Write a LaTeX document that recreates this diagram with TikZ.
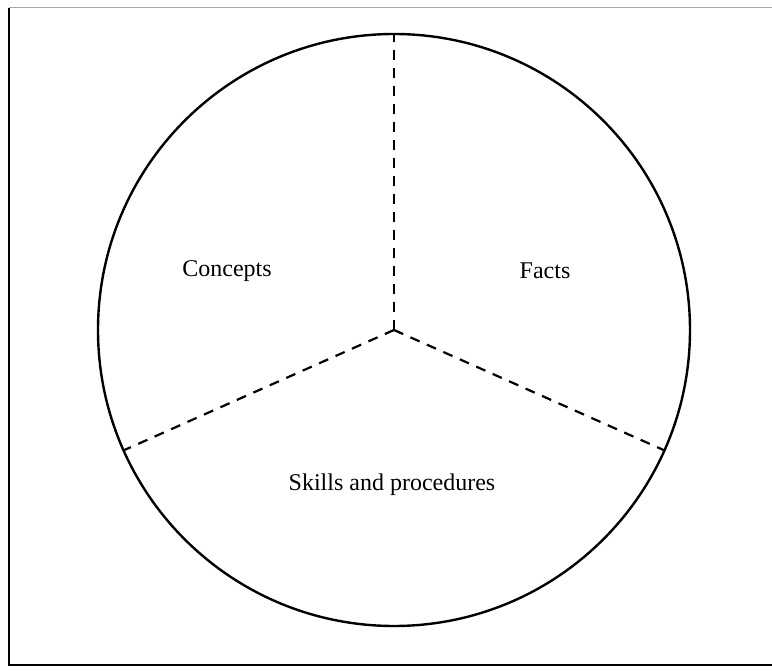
\documentclass[tikz,border=0pt]{standalone}
\usepackage{fontspec}
\setmainfont{Liberation Serif}
\begin{document}
\begin{tikzpicture}[x=1pt,y=-1pt,
  rim/.style={circle,draw,line width=2.4pt,minimum size=592pt,inner sep=0pt,outer sep=0pt},
  divider/.style={line width=2.2pt,dash pattern=on 10pt off 8pt},
  label/.style={font=\fontsize{24}{28}\selectfont,inner sep=0pt},
  frameline/.style={line width=1.8pt}]
\useasboundingbox (0,0) rectangle (772,671);
\coordinate (tl) at (9,8);
\coordinate (bl) at (9,665);
\coordinate (br) at (772,665);
\coordinate (tr) at (772,8);
\draw[frameline] (tl) -- (bl) -- (br);
\draw[gray!70,line width=1pt] (tl) -- (tr);
\node[rim] (c) at (394,330) {};
\draw[divider] (c.center) -- (c.90);
\draw[divider] (c.center) -- (c.204);
\draw[divider] (c.center) -- (c.336);
\node[label] (concepts) at (227,271) {Concepts};
\node[label] (facts) at (545,271) {Facts};
\node[label] (skills) at (392,485) {Skills and procedures};
\end{tikzpicture}
\end{document}
